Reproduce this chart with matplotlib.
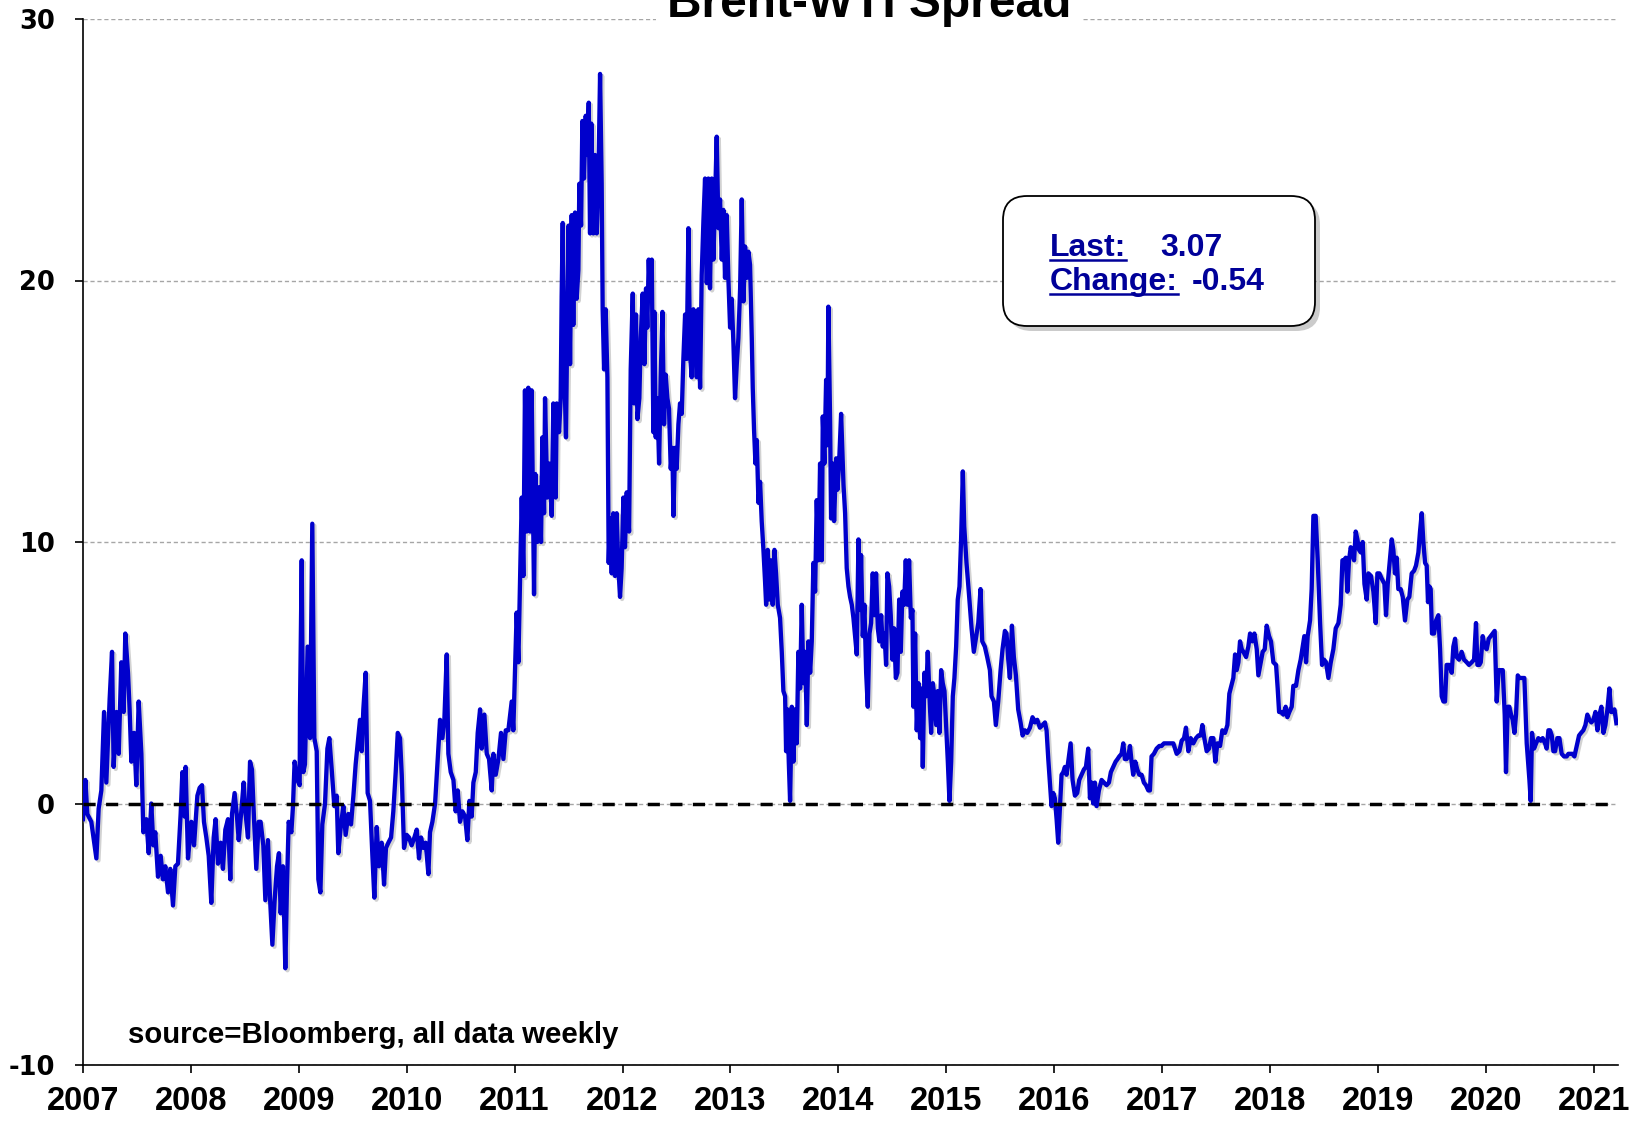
import numpy as np
import matplotlib
matplotlib.use("Agg")
import matplotlib.pyplot as plt
import matplotlib.patheffects as pe
from matplotlib.patches import FancyBboxPatch
from matplotlib.lines import Line2D
from matplotlib.transforms import IdentityTransform

plt.rcParams["axes.unicode_minus"] = False

# Brent-WTI spread, weekly readings (decimal year, $/bbl)
spread_2007_2008 = [
    (2007.000, -0.6), (2007.022, 0.9), (2007.040, -0.4), (2007.077, -0.7), (2007.124, -2.1),
    (2007.145, -0.2), (2007.170, 0.5), (2007.195, 3.5), (2007.216, 0.8), (2007.247, 4.0),
    (2007.269, 5.8), (2007.284, 1.4), (2007.309, 3.5), (2007.331, 1.9), (2007.355, 5.4),
    (2007.377, 3.5), (2007.392, 6.5), (2007.417, 5.0), (2007.432, 3.6), (2007.448, 1.6),
    (2007.473, 2.7), (2007.494, 0.7), (2007.516, 3.9), (2007.541, 1.9), (2007.559, -1.1),
    (2007.587, -0.6), (2007.609, -1.9), (2007.633, 0.0), (2007.652, -1.6), (2007.670, -1.1),
    (2007.695, -2.8), (2007.720, -2.0), (2007.741, -2.9), (2007.763, -2.4), (2007.788, -3.4),
    (2007.809, -2.5), (2007.834, -3.9), (2007.856, -2.4), (2007.880, -2.3), (2007.905, -0.4),
    (2007.921, 1.2), (2007.942, -0.5), (2007.951, 1.4), (2007.973, -2.1), (2008.004, -0.7),
    (2008.029, -1.6), (2008.060, 0.3), (2008.081, 0.6), (2008.103, 0.7), (2008.121, -0.7),
    (2008.143, -1.3), (2008.165, -2.0), (2008.189, -3.8), (2008.211, -1.3), (2008.229, -0.6),
    (2008.251, -2.3), (2008.276, -1.5), (2008.297, -2.5), (2008.319, -1.0), (2008.344, -0.6),
    (2008.365, -2.9), (2008.381, -0.4), (2008.405, 0.4), (2008.427, -0.5), (2008.443, -1.4),
    (2008.467, -0.3), (2008.489, 0.8), (2008.507, -0.4), (2008.529, -1.3), (2008.548, 1.6),
    (2008.566, 1.3), (2008.585, -0.6), (2008.606, -2.5), (2008.628, -0.7), (2008.646, -0.7),
    (2008.671, -1.6), (2008.690, -3.7), (2008.714, -1.4), (2008.733, -3.6), (2008.755, -5.4),
    (2008.776, -3.7), (2008.798, -2.4), (2008.816, -1.9), (2008.832, -4.2), (2008.853, -2.4),
    (2008.875, -6.3), (2008.890, -3.2), (2008.906, -0.7), (2008.931, -1.1), (2008.946, -0.1),
    (2008.961, 1.6), (2008.986, 0.9), (2009.008, 0.7),
]

spread_2009_2010 = [
    (2009.011, 3.6), (2009.027, 9.3), (2009.042, 1.2), (2009.057, 1.5), (2009.082, 6.0),
    (2009.104, 2.5), (2009.125, 10.7), (2009.144, 2.5), (2009.166, 2.0), (2009.181, -2.9),
    (2009.200, -3.4), (2009.218, -0.8), (2009.243, 0.0), (2009.265, 2.1), (2009.283, 2.5),
    (2009.305, 1.3), (2009.329, -0.1), (2009.351, 0.3), (2009.366, -1.9), (2009.391, -0.8),
    (2009.413, -0.1), (2009.434, -1.2), (2009.459, -0.4), (2009.484, -0.8), (2009.506, 0.3),
    (2009.527, 1.5), (2009.546, 2.3), (2009.567, 3.2), (2009.583, 2.0), (2009.598, 3.6),
    (2009.620, 5.0), (2009.638, 0.4), (2009.660, 0.1), (2009.682, -2.0), (2009.700, -3.6),
    (2009.722, -0.9), (2009.743, -2.4), (2009.768, -1.5), (2009.790, -3.1), (2009.808, -1.7),
    (2009.830, -1.5), (2009.855, -1.3), (2009.876, -0.3), (2009.898, 1.2), (2009.917, 2.7),
    (2009.938, 2.5), (2009.954, 1.1), (2009.975, -1.7), (2010.000, -1.2), (2010.021, -1.3),
    (2010.046, -1.6), (2010.071, -1.3), (2010.093, -1.0), (2010.114, -2.1), (2010.133, -1.3),
    (2010.154, -1.7), (2010.176, -1.5), (2010.201, -2.7), (2010.216, -1.1), (2010.238, -0.7),
    (2010.263, 0.0), (2010.287, 1.7), (2010.309, 3.2), (2010.331, 2.5), (2010.349, 3.2),
    (2010.371, 5.7), (2010.386, 1.9), (2010.408, 1.2), (2010.433, 0.9), (2010.454, -0.3),
    (2010.473, 0.5), (2010.494, -0.7), (2010.516, -0.3), (2010.541, -0.5), (2010.562, -1.4),
    (2010.581, 0.1), (2010.602, -0.5), (2010.618, 0.8), (2010.640, 1.2), (2010.658, 2.7),
    (2010.680, 3.6), (2010.695, 2.1), (2010.720, 3.4), (2010.742, 1.9), (2010.763, 1.7),
    (2010.788, 0.5), (2010.803, 1.9), (2010.825, 1.1), (2010.850, 1.7), (2010.874, 2.7),
    (2010.896, 1.7), (2010.918, 2.8), (2010.942, 2.8),
]

spread_2011_2012 = [
    (2010.973, 3.9), (2010.988, 2.8), (2011.004, 5.2), (2011.019, 7.3), (2011.035, 5.4),
    (2011.050, 8.5), (2011.066, 11.7), (2011.081, 8.7), (2011.096, 15.8), (2011.112, 10.4),
    (2011.127, 15.9), (2011.143, 10.4), (2011.158, 15.8), (2011.180, 8.0), (2011.192, 12.6),
    (2011.211, 10.0), (2011.229, 12.1), (2011.245, 10.0), (2011.257, 14.0), (2011.273, 11.1),
    (2011.282, 15.5), (2011.303, 11.7), (2011.322, 13.0), (2011.344, 11.0), (2011.359, 15.3),
    (2011.381, 11.7), (2011.390, 15.3), (2011.412, 14.2), (2011.427, 15.5), (2011.436, 19.4),
    (2011.446, 22.2), (2011.458, 17.0), (2011.476, 14.0), (2011.489, 18.7), (2011.501, 22.1),
    (2011.514, 16.8), (2011.529, 22.5), (2011.544, 18.3), (2011.560, 22.6), (2011.575, 19.3),
    (2011.591, 20.4), (2011.600, 23.7), (2011.616, 22.1), (2011.628, 26.1), (2011.643, 23.9),
    (2011.659, 26.3), (2011.674, 24.8), (2011.687, 26.8), (2011.699, 21.8), (2011.711, 26.0),
    (2011.730, 21.8), (2011.745, 24.8), (2011.761, 21.8), (2011.776, 23.7), (2011.792, 27.9),
    (2011.807, 23.7), (2011.816, 18.9), (2011.829, 16.6), (2011.844, 18.9), (2011.860, 16.3),
    (2011.872, 9.2), (2011.884, 10.9), (2011.900, 8.8), (2011.915, 11.1), (2011.931, 8.7),
    (2011.946, 11.1), (2011.962, 9.0), (2011.977, 7.9), (2011.992, 9.0), (2012.008, 11.7),
    (2012.023, 9.8), (2012.039, 11.9), (2012.061, 10.4), (2012.076, 16.6), (2012.095, 19.5),
    (2012.107, 15.3), (2012.125, 18.7), (2012.138, 14.7), (2012.156, 15.5), (2012.169, 17.8),
    (2012.187, 19.5), (2012.203, 16.8), (2012.218, 19.7), (2012.230, 18.2), (2012.243, 20.8),
    (2012.255, 19.3), (2012.271, 20.8), (2012.286, 14.2), (2012.295, 18.8), (2012.308, 14.0),
    (2012.323, 15.5), (2012.339, 13.0), (2012.354, 16.3), (2012.370, 18.8), (2012.385, 14.5),
    (2012.400, 16.4), (2012.416, 15.5), (2012.431, 15.1), (2012.447, 12.8), (2012.462, 13.6),
    (2012.472, 11.0), (2012.487, 13.6), (2012.502, 12.8), (2012.518, 14.5), (2012.533, 15.3),
    (2012.549, 14.9), (2012.564, 17.0), (2012.580, 18.7), (2012.595, 17.0), (2012.611, 22.0),
    (2012.626, 17.2), (2012.641, 16.3), (2012.657, 18.9), (2012.672, 18.5), (2012.688, 16.3),
    (2012.703, 18.9), (2012.719, 15.9), (2012.734, 20.2), (2012.750, 22.3), (2012.765, 23.9),
    (2012.781, 19.9), (2012.796, 23.9), (2012.811, 19.7), (2012.827, 23.9), (2012.842, 20.8),
    (2012.858, 23.1), (2012.873, 25.5), (2012.889, 22.0), (2012.904, 23.1), (2012.920, 20.8),
    (2012.935, 22.7), (2012.950, 20.1), (2012.966, 22.5), (2012.981, 20.1), (2012.997, 18.2),
    (2013.012, 19.3), (2013.028, 17.6), (2013.043, 15.5), (2013.059, 16.8), (2013.074, 17.8),
    (2013.090, 19.7),
]

spread_2013_2014 = [
    (2013.105, 23.1), (2013.121, 19.2), (2013.136, 21.3), (2013.151, 20.1), (2013.167, 21.1),
    (2013.182, 20.6), (2013.198, 17.8), (2013.207, 15.9), (2013.219, 14.3), (2013.232, 13.0),
    (2013.244, 13.9), (2013.260, 11.5), (2013.275, 12.3), (2013.290, 10.8), (2013.306, 9.7),
    (2013.321, 8.5), (2013.331, 7.6), (2013.346, 9.7), (2013.362, 7.8), (2013.377, 9.3),
    (2013.392, 7.6), (2013.408, 9.7), (2013.423, 8.8), (2013.439, 7.6), (2013.460, 7.1),
    (2013.476, 5.8), (2013.491, 4.3), (2013.507, 4.1), (2013.516, 2.0), (2013.528, 3.6),
    (2013.541, 1.6), (2013.553, 0.1), (2013.569, 3.7), (2013.584, 1.6), (2013.599, 3.6),
    (2013.615, 2.3), (2013.630, 5.8), (2013.646, 4.4), (2013.661, 7.6), (2013.677, 4.6),
    (2013.692, 5.8), (2013.708, 3.0), (2013.723, 6.2), (2013.739, 5.0), (2013.754, 6.2),
    (2013.769, 9.2), (2013.785, 8.1), (2013.800, 11.6), (2013.816, 9.3), (2013.831, 13.0),
    (2013.847, 9.3), (2013.856, 14.8), (2013.871, 13.0), (2013.887, 16.2), (2013.899, 13.7),
    (2013.908, 19.0), (2013.924, 14.6), (2013.933, 10.9), (2013.949, 13.0), (2013.961, 10.8),
    (2013.980, 13.2), (2013.992, 12.0), (2014.007, 13.0), (2014.026, 14.9), (2014.048, 12.2),
    (2014.063, 11.1), (2014.078, 9.0), (2014.094, 8.3), (2014.109, 7.9), (2014.125, 7.6),
    (2014.140, 7.1), (2014.156, 6.4), (2014.171, 5.7), (2014.187, 10.1), (2014.202, 7.4),
    (2014.211, 9.5), (2014.227, 6.4), (2014.242, 7.6), (2014.258, 5.0), (2014.273, 3.7),
    (2014.289, 6.5), (2014.304, 6.9), (2014.319, 8.8), (2014.335, 7.2), (2014.350, 8.8),
    (2014.366, 6.7), (2014.381, 6.2), (2014.397, 7.2), (2014.412, 6.0), (2014.428, 6.5),
    (2014.443, 5.3), (2014.455, 8.8), (2014.471, 8.3), (2014.486, 7.2), (2014.502, 5.5),
    (2014.517, 6.7), (2014.533, 4.8), (2014.548, 5.0), (2014.564, 7.8), (2014.579, 5.8),
    (2014.594, 8.1), (2014.610, 7.6), (2014.625, 9.3), (2014.641, 7.6), (2014.656, 9.3),
    (2014.672, 7.1), (2014.687, 7.4), (2014.696, 3.7), (2014.712, 6.5), (2014.727, 2.8),
    (2014.743, 4.6), (2014.758, 2.5), (2014.774, 4.4), (2014.783, 1.4), (2014.798, 5.0),
    (2014.814, 4.1), (2014.829, 5.8), (2014.845, 4.1), (2014.860, 2.7), (2014.876, 4.6),
    (2014.891, 4.1), (2014.907, 3.0), (2014.922, 4.3), (2014.937, 2.7), (2014.953, 5.1),
    (2014.968, 4.6), (2014.984, 4.3), (2014.999, 3.0), (2015.015, 1.6), (2015.030, 0.1),
    (2015.046, 1.6), (2015.061, 4.1), (2015.076, 4.8), (2015.092, 6.0), (2015.107, 7.8),
    (2015.123, 8.3), (2015.138, 10.1), (2015.154, 12.7),
]

spread_2015_2016 = [
    (2015.167, 10.6), (2015.188, 9.2), (2015.213, 7.9), (2015.235, 6.7), (2015.256, 5.8),
    (2015.275, 6.3), (2015.297, 6.9), (2015.318, 8.2), (2015.334, 6.2), (2015.358, 6.0),
    (2015.380, 5.6), (2015.405, 5.1), (2015.420, 4.1), (2015.442, 3.9), (2015.460, 3.0),
    (2015.482, 3.9), (2015.504, 5.1), (2015.522, 5.9), (2015.544, 6.6), (2015.559, 6.5),
    (2015.575, 5.5), (2015.590, 4.8), (2015.609, 6.8), (2015.627, 5.6), (2015.646, 4.9),
    (2015.667, 3.6), (2015.689, 3.1), (2015.708, 2.6), (2015.729, 2.8), (2015.751, 2.7),
    (2015.776, 2.9), (2015.800, 3.3), (2015.822, 3.1), (2015.844, 3.2), (2015.868, 2.9),
    (2015.893, 3.0), (2015.915, 3.1), (2015.930, 2.8), (2015.946, 1.7), (2015.961, 0.8),
    (2015.976, -0.1), (2015.992, 0.4), (2016.007, 0.2), (2016.023, -0.6), (2016.038, -1.5),
    (2016.054, -0.2), (2016.069, 1.1), (2016.085, 1.2), (2016.100, 1.4), (2016.115, 1.1),
    (2016.131, 1.6), (2016.153, 2.3), (2016.171, 0.9), (2016.193, 0.3), (2016.214, 0.4),
    (2016.233, 0.9), (2016.255, 1.1), (2016.276, 1.3), (2016.295, 1.4), (2016.316, 2.1),
    (2016.332, 0.2), (2016.347, 0.8), (2016.363, 0.0), (2016.378, 0.8), (2016.394, -0.1),
    (2016.415, 0.5), (2016.440, 0.9), (2016.462, 0.8), (2016.486, 0.7), (2016.508, 0.8),
    (2016.526, 1.2), (2016.548, 1.4), (2016.570, 1.6), (2016.588, 1.7), (2016.604, 1.8),
    (2016.625, 1.9), (2016.641, 2.3), (2016.656, 1.7), (2016.672, 1.7), (2016.687, 1.8),
    (2016.703, 2.2), (2016.718, 1.6), (2016.733, 1.1), (2016.752, 1.6), (2016.771, 1.3),
    (2016.789, 1.1), (2016.811, 1.1), (2016.832, 0.8), (2016.851, 0.7), (2016.873, 0.5),
    (2016.888, 0.5), (2016.903, 1.8), (2016.925, 1.9), (2016.950, 2.1), (2016.975, 2.2),
    (2016.996, 2.2), (2017.018, 2.3), (2017.042, 2.3), (2017.073, 2.3),
]

spread_2017_2018 = [
    (2017.105, 2.3), (2017.136, 1.9), (2017.161, 2.0), (2017.182, 2.4), (2017.204, 2.5),
    (2017.222, 2.9), (2017.244, 2.0), (2017.266, 2.5), (2017.290, 2.3), (2017.315, 2.5),
    (2017.337, 2.6), (2017.358, 2.6), (2017.374, 3.0), (2017.392, 2.5), (2017.414, 2.0),
    (2017.436, 2.1), (2017.454, 2.5), (2017.476, 2.5), (2017.494, 1.6), (2017.513, 2.3),
    (2017.538, 2.2), (2017.559, 2.8), (2017.584, 2.7), (2017.606, 3.0), (2017.624, 4.2),
    (2017.643, 4.5), (2017.661, 4.8), (2017.677, 5.7), (2017.692, 5.1), (2017.708, 5.4),
    (2017.723, 6.2), (2017.739, 5.9), (2017.754, 5.8), (2017.779, 5.6), (2017.800, 6.0),
    (2017.816, 6.5), (2017.837, 6.2), (2017.856, 6.5), (2017.878, 5.9), (2017.893, 4.9),
    (2017.915, 5.4), (2017.933, 5.8), (2017.952, 5.9), (2017.970, 6.8), (2017.992, 6.4),
    (2018.010, 6.2), (2018.032, 5.4), (2018.057, 5.3), (2018.072, 4.4), (2018.085, 3.5),
    (2018.103, 3.5), (2018.125, 3.4), (2018.146, 3.7), (2018.162, 3.3), (2018.180, 3.5),
    (2018.202, 3.7), (2018.217, 4.5), (2018.242, 4.5), (2018.264, 5.1), (2018.285, 5.5),
    (2018.304, 6.0), (2018.319, 6.4), (2018.335, 5.4), (2018.350, 6.4), (2018.372, 7.0),
    (2018.387, 8.2), (2018.403, 11.0), (2018.424, 11.0), (2018.443, 9.3), (2018.465, 6.9),
    (2018.483, 5.3), (2018.502, 5.5), (2018.520, 5.4), (2018.542, 4.8), (2018.564, 5.4),
    (2018.588, 5.9), (2018.610, 6.7), (2018.635, 6.9), (2018.656, 7.6), (2018.672, 9.3),
    (2018.687, 9.3), (2018.703, 9.4), (2018.718, 8.1), (2018.733, 9.3), (2018.749, 9.8),
    (2018.764, 9.6), (2018.780, 9.3), (2018.795, 10.4), (2018.811, 10.1), (2018.826, 9.7),
    (2018.842, 9.6), (2018.860, 10.0), (2018.876, 8.4), (2018.897, 7.8), (2018.913, 8.8),
    (2018.937, 8.7), (2018.959, 8.1), (2018.981, 6.9), (2018.996, 8.8), (2019.015, 8.8),
    (2019.036, 8.6), (2019.061, 8.4), (2019.076, 7.2), (2019.092, 8.4),
]

spread_2019_2021 = [
    (2019.129, 10.1), (2019.144, 9.7), (2019.159, 8.8), (2019.175, 9.4), (2019.190, 8.2),
    (2019.212, 8.2), (2019.231, 7.9), (2019.252, 7.0), (2019.274, 7.8), (2019.292, 7.9),
    (2019.314, 8.8), (2019.336, 8.9), (2019.354, 9.1), (2019.376, 9.6), (2019.391, 10.4),
    (2019.407, 11.1), (2019.422, 10.0), (2019.438, 9.2), (2019.453, 9.1), (2019.465, 7.7),
    (2019.478, 8.3), (2019.490, 8.2), (2019.502, 6.5), (2019.521, 6.5), (2019.540, 7.0),
    (2019.561, 7.2), (2019.577, 5.9), (2019.592, 4.1), (2019.608, 3.9), (2019.623, 3.9),
    (2019.638, 5.3), (2019.663, 5.3), (2019.685, 5.0), (2019.700, 6.0), (2019.716, 6.3),
    (2019.731, 5.6), (2019.753, 5.5), (2019.777, 5.8), (2019.799, 5.5), (2019.824, 5.4),
    (2019.845, 5.3), (2019.870, 5.4), (2019.892, 5.5), (2019.910, 6.9), (2019.923, 5.3),
    (2019.941, 5.3), (2019.954, 5.4), (2019.972, 6.4), (2019.991, 6.0), (2020.009, 5.9),
    (2020.028, 6.3), (2020.046, 6.4), (2020.065, 6.5), (2020.083, 6.6), (2020.102, 3.9),
    (2020.120, 5.1), (2020.139, 5.1), (2020.158, 5.1), (2020.176, 3.4), (2020.188, 1.2),
    (2020.204, 3.7), (2020.219, 3.7), (2020.235, 3.4), (2020.250, 3.2), (2020.266, 2.7),
    (2020.281, 3.4), (2020.297, 4.9), (2020.312, 4.8), (2020.327, 4.8), (2020.343, 4.8),
    (2020.358, 4.8), (2020.380, 2.3), (2020.405, 0.9), (2020.417, 0.1), (2020.429, 2.7),
    (2020.448, 2.1), (2020.467, 2.3), (2020.488, 2.5), (2020.510, 2.4), (2020.528, 2.5),
    (2020.550, 2.3), (2020.565, 2.1), (2020.581, 2.8), (2020.596, 2.8), (2020.612, 2.6),
    (2020.627, 2.0), (2020.643, 2.0), (2020.664, 2.5), (2020.683, 2.5), (2020.704, 1.9),
    (2020.726, 1.8), (2020.751, 1.8), (2020.766, 1.9), (2020.782, 1.9), (2020.803, 1.9),
    (2020.822, 1.8), (2020.843, 2.2), (2020.865, 2.6), (2020.884, 2.7), (2020.905, 2.8),
    (2020.924, 3.0), (2020.942, 3.4), (2020.961, 3.2), (2020.979, 3.1), (2020.998, 3.2),
    (2021.017, 3.5), (2021.035, 2.8), (2021.054, 3.4), (2021.072, 3.7), (2021.091, 2.7),
    (2021.109, 3.0), (2021.128, 3.6), (2021.146, 4.4), (2021.162, 3.5), (2021.177, 3.5),
    (2021.193, 3.6), (2021.211, 3.07),
]

chart_title = "Brent-WTI Spread"
source_note = "source=Bloomberg, all data weekly"
last_value = "3.07"
change_value = "-0.54"
year_ticks = list(range(2007, 2022))
value_ticks = [-10, 0, 10, 20, 30]

weekly = (spread_2007_2008 + spread_2009_2010 + spread_2011_2012 + spread_2013_2014
          + spread_2015_2016 + spread_2017_2018 + spread_2019_2021)
dates = np.array([d for d, v in weekly])
spread = np.array([v for d, v in weekly])

W, H = 1642, 1123
arial = ["Liberation Sans", "DejaVu Sans"]
navy = "#000099"

fig = plt.figure(figsize=(W / 100, H / 100), dpi=100)
ax = fig.add_axes([83 / W, 1 - 1065 / H, (1618 - 83) / W, (1065 - 19) / H])

ax.plot(dates, spread, color="#0000cc", lw=3.1, zorder=3, solid_joinstyle="round",
        path_effects=[pe.SimpleLineShadow(offset=(1.5, -1.5), shadow_color="#808080", alpha=0.35),
                      pe.Normal()])
ax.axhline(0, color="black", lw=2.5, ls=(0, (3.5, 3)), zorder=4)

ax.set_xlim(2007, 2021.226)
ax.set_ylim(-10, 30)
ax.set_xticks(year_ticks)
ax.set_xticklabels([str(y) for y in year_ticks])
ax.set_yticks(value_ticks)
ax.grid(axis="y", color="#a6a6a6", ls=(0, (3, 2)), lw=1, zorder=1)
ax.grid(axis="x", visible=False)

for side in ["top", "right"]:
    ax.spines[side].set_visible(False)
for side in ["left", "bottom"]:
    ax.spines[side].set_linewidth(1.2)
    ax.spines[side].set_color("black")

ax.tick_params(axis="x", direction="out", length=6, width=1.2, pad=9)
ax.tick_params(axis="y", direction="out", length=6, width=1.2, pad=14)
for lab in ax.get_xticklabels():
    lab.set_fontfamily(arial)
    lab.set_fontweight("bold")
    lab.set_fontsize(23.5)
for lab in ax.get_yticklabels():
    lab.set_fontfamily(["DejaVu Sans"])
    lab.set_fontweight("bold")
    lab.set_fontsize(18.5)

fig.text(869 / W, 1 - 17 / H, chart_title, ha="center", va="baseline", fontsize=34.5,
         fontweight="bold", family=arial,
         bbox=dict(facecolor="white", edgecolor="none", pad=8))

fig.text(128 / W, 1 - 1043 / H, source_note, ha="left", va="baseline", fontsize=21.2,
         fontweight="bold", family=arial)

# "Last / Change" call-out box (pixel coordinates)
px = IdentityTransform()
shadow = FancyBboxPatch((1008, 1123 - 331), 312, 130, boxstyle="round,pad=0,rounding_size=24",
                        transform=px, facecolor="#8c8c8c", edgecolor="none", alpha=0.45, zorder=5)
box = FancyBboxPatch((1003, 1123 - 326), 312, 130, boxstyle="round,pad=0,rounding_size=24",
                     transform=px, facecolor="white", edgecolor="black", lw=1.3, zorder=6)
fig.add_artist(shadow)
fig.add_artist(box)

labels = []
for text, x, base in [("Last:", 1050, 1123 - 256), ("Change:", 1050, 1123 - 290)]:
    t = fig.text(x, base, text, transform=px, ha="left", va="baseline", fontsize=23,
                 fontweight="bold", family=arial, color=navy, zorder=7)
    labels.append((t, base))
for text, x, base in [(last_value, 1160, 1123 - 256), (change_value, 1192, 1123 - 290)]:
    fig.text(x, base, text, transform=px, ha="left", va="baseline", fontsize=23,
             fontweight="bold", family=arial, color=navy, zorder=7)

fig.canvas.draw()
renderer = fig.canvas.get_renderer()
for t, base in labels:
    bb = t.get_window_extent(renderer)
    fig.add_artist(Line2D([bb.x0, bb.x1], [base - 4, base - 4], transform=px,
                          color=navy, lw=1.8, zorder=7))

fig.savefig("out.png", dpi=100, facecolor="white")
